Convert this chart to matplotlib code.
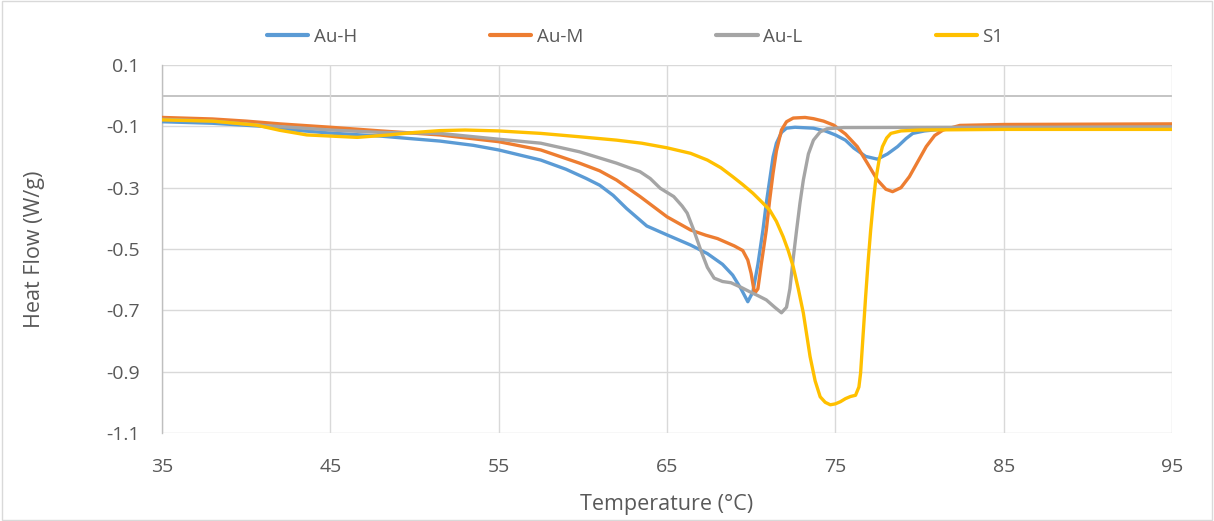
import matplotlib
matplotlib.use("Agg")
import matplotlib.pyplot as plt
from matplotlib.patches import Rectangle

series_names = ["Au-H", "Au-M", "Au-L", "S1"]
colors = ["#5B9BD5", "#ED7D31", "#A5A5A5", "#FFC000"]

t_auh = [35, 38, 41, 43, 45, 48, 51.5, 53.5, 55, 57.5, 59, 60.2, 61.0, 61.8, 62.6, 63.8, 65, 66.4, 67.4, 68.3, 68.9, 69.4, 69.8, 70.1, 70.4, 70.7, 70.9, 71.1, 71.3, 71.5, 71.8, 72.1, 72.6, 73.7, 74.4, 75, 75.6, 76.1, 76.8, 77.5, 78.1, 78.7, 79.2, 79.6, 80.3, 81.2, 83, 85, 95]
v_auh = [-0.085, -0.09, -0.1, -0.113, -0.122, -0.132, -0.148, -0.162, -0.177, -0.21, -0.24, -0.27, -0.292, -0.325, -0.368, -0.425, -0.454, -0.487, -0.515, -0.55, -0.585, -0.63, -0.672, -0.64, -0.55, -0.438, -0.35, -0.275, -0.2, -0.155, -0.12, -0.106, -0.103, -0.106, -0.115, -0.128, -0.145, -0.171, -0.198, -0.207, -0.19, -0.166, -0.14, -0.123, -0.115, -0.11, -0.106, -0.104, -0.102]

t_aum = [35, 38, 40, 42, 45, 48, 51.5, 55, 57.5, 59.8, 61, 62, 63.4, 65, 66.4, 67.3, 68, 69, 69.5, 69.8, 70, 70.2, 70.4, 70.6, 70.9, 71.1, 71.3, 71.5, 71.8, 72.1, 72.5, 73.2, 73.7, 74.3, 74.9, 75.6, 76.3, 76.9, 77.5, 78, 78.4, 78.9, 79.4, 79.9, 80.4, 80.9, 81.4, 82.4, 85, 95]
v_aum = [-0.071, -0.076, -0.083, -0.092, -0.103, -0.115, -0.128, -0.15, -0.177, -0.22, -0.245, -0.275, -0.329, -0.395, -0.438, -0.455, -0.466, -0.49, -0.505, -0.536, -0.58, -0.645, -0.63, -0.55, -0.438, -0.34, -0.253, -0.18, -0.112, -0.085, -0.073, -0.071, -0.075, -0.083, -0.096, -0.125, -0.166, -0.22, -0.275, -0.305, -0.313, -0.3, -0.264, -0.215, -0.166, -0.13, -0.112, -0.097, -0.094, -0.092]

t_aul = [35, 38, 41, 45, 48, 51.5, 55, 57.5, 59.8, 62, 63.4, 64, 64.6, 65.4, 65.9, 66.2, 66.6, 67, 67.4, 67.8, 68.3, 68.8, 69.4, 69.9, 70.4, 70.9, 71.4, 71.8, 72.1, 72.3, 72.5, 72.7, 72.9, 73.1, 73.4, 73.7, 74.1, 74.5, 75.5, 85, 95]
v_aul = [-0.077, -0.083, -0.097, -0.112, -0.12, -0.123, -0.142, -0.155, -0.183, -0.22, -0.248, -0.27, -0.302, -0.329, -0.36, -0.383, -0.44, -0.503, -0.56, -0.595, -0.606, -0.61, -0.625, -0.639, -0.652, -0.666, -0.69, -0.708, -0.69, -0.63, -0.53, -0.438, -0.35, -0.275, -0.19, -0.145, -0.118, -0.108, -0.104, -0.103, -0.103]

t_s1 = [35, 38, 40.6, 42, 43.6, 46.6, 48.5, 50, 51.5, 53, 55, 57.5, 59.8, 62, 63.5, 65, 66.4, 67.4, 68.2, 68.9, 69.5, 70.1, 70.6, 71.1, 71.5, 71.9, 72.2, 72.5, 72.8, 73.1, 73.3, 73.5, 73.8, 74.1, 74.4, 74.7, 75.0, 75.3, 75.6, 75.9, 76.2, 76.4, 76.5, 76.65, 76.8, 76.95, 77.1, 77.25, 77.4, 77.6, 77.8, 78.05, 78.3, 78.9, 80, 85, 95]
v_s1 = [-0.079, -0.083, -0.096, -0.113, -0.128, -0.136, -0.128, -0.12, -0.114, -0.112, -0.115, -0.123, -0.134, -0.145, -0.155, -0.17, -0.188, -0.21, -0.235, -0.264, -0.29, -0.318, -0.345, -0.373, -0.41, -0.46, -0.505, -0.558, -0.63, -0.709, -0.78, -0.851, -0.93, -0.982, -1.0, -1.008, -1.005, -0.998, -0.988, -0.981, -0.977, -0.95, -0.905, -0.78, -0.655, -0.54, -0.438, -0.35, -0.275, -0.21, -0.166, -0.138, -0.123, -0.115, -0.112, -0.11, -0.11]

x_ticks = [35, 45, 55, 65, 75, 85, 95]
y_ticks = [-1.1, -0.9, -0.7, -0.5, -0.3, -0.1, 0.1]

plt.rcParams['font.family'] = ['Open Sans', 'DejaVu Sans']
text_color = "#595959"

fig = plt.figure(figsize=(12.14, 5.21), dpi=100)
fig.patches.append(Rectangle((0.002, 0.002), 0.996, 0.996, transform=fig.transFigure,
                             fill=False, edgecolor="#D9D9D9", linewidth=1.0))
ax = fig.add_axes([162/1214, 1-433/521, (1172-162)/1214, (433-65)/521])

data = [(t_auh, v_auh), (t_aum, v_aum), (t_aul, v_aul), (t_s1, v_s1)]
for (t, v), name, c in zip(data, series_names, colors):
    ax.plot(t, v, color=c, linewidth=2.4, label=name, solid_capstyle='round', solid_joinstyle='round', zorder=3)

ax.set_xlim(35, 95)
ax.set_ylim(-1.1, 0.1)
ax.set_xticks(x_ticks)
ax.set_yticks(y_ticks)
ax.set_xticklabels([str(x) for x in x_ticks])
ax.set_yticklabels(["%g" % y for y in y_ticks])
ax.grid(True, color="#D9D9D9", linewidth=1.0, zorder=0)
ax.axhline(0, color="#BFBFBF", linewidth=1.3, zorder=1)
for s in ["top", "right", "bottom"]:
    ax.spines[s].set_visible(False)
ax.spines["left"].set_color("#BFBFBF")
ax.spines["left"].set_linewidth(1.0)
ax.tick_params(axis='both', length=0, labelsize=14, colors=text_color)
ax.tick_params(axis='x', pad=18)
ax.tick_params(axis='y', pad=16)

ax.set_xlabel("Temperature (°C)", fontsize=15.5, color=text_color, labelpad=13)
ax.set_ylabel("Heat Flow (W/g)", fontsize=15.5, color=text_color, labelpad=44)

leg = fig.legend(loc='center', bbox_to_anchor=(635/1214, 1-37/521), ncol=4, frameon=False,
                 fontsize=13.5, handlelength=2.2, columnspacing=7.1, handletextpad=0.3)
for txt in leg.get_texts():
    txt.set_color(text_color)
for line in leg.get_lines():
    line.set_linewidth(3.0)

fig.savefig("out.png", dpi=100)
